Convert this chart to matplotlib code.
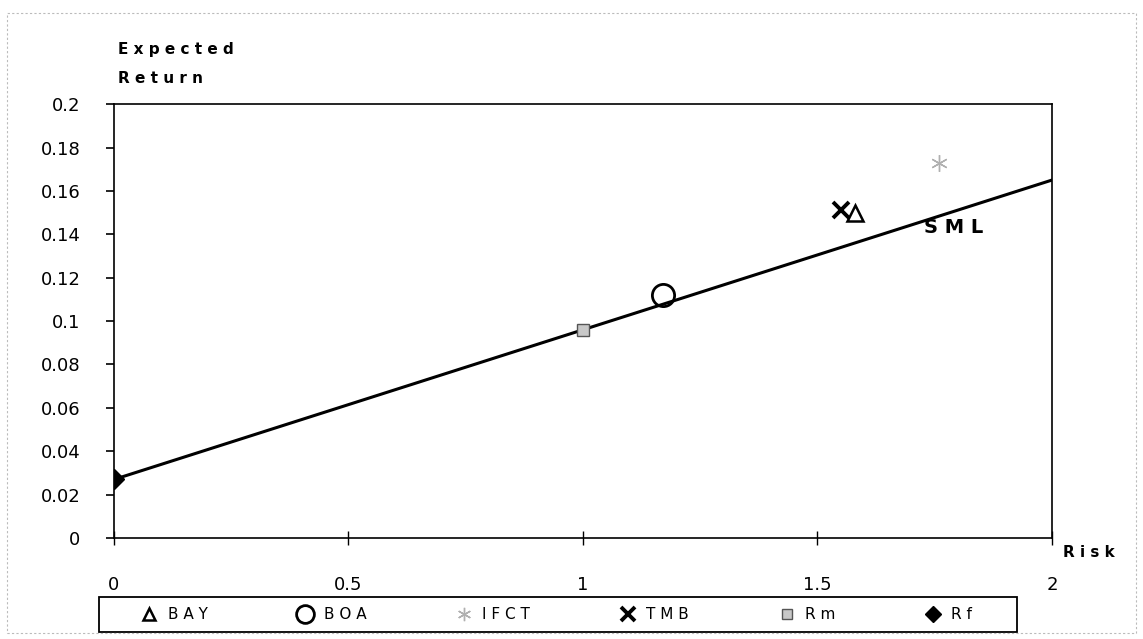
import matplotlib.pyplot as plt
from matplotlib.patches import Rectangle

# values
names = ['BAY', 'BOA', 'IFCT', 'TMB', 'Rm', 'Rf']
beta = [1.58, 1.17, 1.76, 1.55, 1.0, 0.0]
ret = [0.150, 0.112, 0.173, 0.151, 0.096, 0.027]

sml_beta = [0.0, 2.0]
sml_ret = [0.027, 0.165]

xticks = [0, 0.5, 1, 1.5, 2]
yticks = [0, 0.02, 0.04, 0.06, 0.08, 0.1, 0.12, 0.14, 0.16, 0.18, 0.2]

styles = {
    'BAY': dict(marker='^', ms=11, mfc='none', mec='black', mew=1.8),
    'BOA': dict(marker='o', ms=16, mfc='none', mec='black', mew=2.0),
    'IFCT': dict(marker=(6, 2, 0), ms=12, mfc='#b0b0b0', mec='#b0b0b0', mew=1.0),
    'TMB': dict(marker='x', ms=12, mfc='black', mec='black', mew=2.8),
    'Rm': dict(marker='s', ms=9, mfc='#c8c8c8', mec='#555555', mew=1.0),
    'Rf': dict(marker='D', ms=10, mfc='black', mec='black', mew=1.0),
}

fig = plt.figure(figsize=(11.43, 6.39), dpi=100)
ax = fig.add_axes([0.0997, 0.158, 0.8206, 0.679])

ax.plot(sml_beta, sml_ret, color='black', lw=2.2, zorder=2)

handles = []
for n, b, r in zip(names, beta, ret):
    h, = ax.plot([b], [r], linestyle='none', label=n, zorder=3, **styles[n])
    handles.append(h)

ax.set_xlim(0, 2)
ax.set_ylim(0, 0.2)
ax.set_xticks(xticks)
ax.set_xticklabels(['0', '0.5', '1', '1.5', '2'])
ax.set_yticks(yticks)
ax.set_yticklabels(['0', '0.02', '0.04', '0.06', '0.08', '0.1', '0.12',
                    '0.14', '0.16', '0.18', '0.2'])
ax.tick_params(axis='y', direction='out', length=6, width=1.2, pad=18,
               labelsize=13)
ax.tick_params(axis='x', direction='inout', length=10, width=1.0, pad=22,
               labelsize=13)
for s in ax.spines.values():
    s.set_linewidth(1.2)
    s.set_color('black')

ax.text(1.79, 0.143, 'S M L', fontsize=14, fontweight='bold',
        ha='center', va='center')

fig.text(0.103, 0.922, 'E x p e c t e d', fontsize=11, fontweight='bold',
         va='center')
fig.text(0.103, 0.877, 'R e t u r n', fontsize=11, fontweight='bold',
         va='center')
fig.text(0.930, 0.136, 'R i s k', fontsize=11, fontweight='bold',
         va='center')

leg = fig.legend(handles=handles, labels=['B A Y', 'B O A', 'I F C T',
                                         'T M B', 'R m', 'R f'],
                 ncol=6, loc='center', mode='expand',
                 bbox_to_anchor=(0.112, 0.011, 0.744, 0.055),
                 frameon=False, fontsize=11, handletextpad=0.2,
                 markerscale=0.8, borderaxespad=0)

# legend box
fig.patches.append(Rectangle((0.0866, 0.011), 0.803, 0.055,
                             transform=fig.transFigure, fill=False,
                             edgecolor='black', lw=1.3))

# faint scanned page border
fig.patches.append(Rectangle((0.006, 0.01), 0.988, 0.97, transform=fig.transFigure,
                             fill=False, edgecolor='#bbbbbb', lw=0.8,
                             linestyle=(0, (2, 2))))

fig.savefig('out.png', dpi=100)
